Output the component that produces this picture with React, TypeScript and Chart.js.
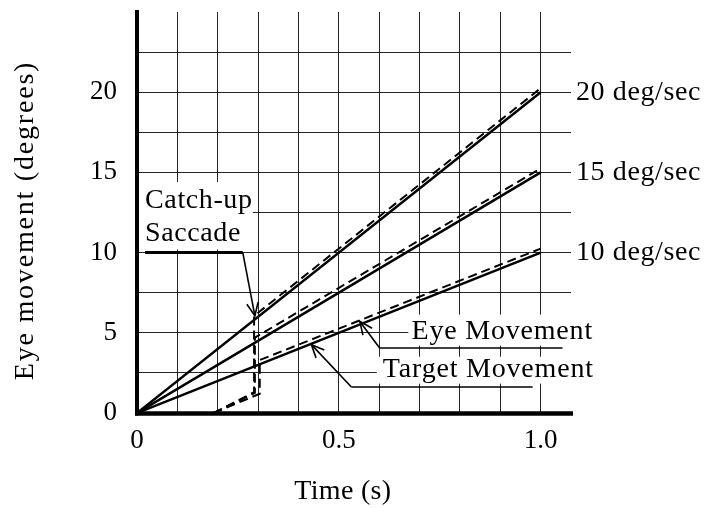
import React, { useEffect, useRef } from "react";
import { Chart, registerables } from "chart.js";

Chart.register(...registerables);

// ---- data ----
const targetTimes = [0, 1.0];
const target20 = [0, 20];
const target15 = [0, 15];
const target10 = [0, 10];

const eyeTimes20 = [0.19, 0.29, 0.29, 1.0];
const eye20 = [0, 1.3, 6.05, 20.25];
const eyeTimes15 = [0.19, 0.292, 0.292, 1.0];
const eye15 = [0, 1.25, 4.7, 15.25];
const eyeTimes10 = [0.19, 0.304, 0.304, 1.0];
const eye10 = [0, 1.2, 3.3, 10.25];

const xTickValues = [0, 0.5, 1.0];
const xTickLabels = ["0", "0.5", "1.0"];
const yTickValues = [0, 5, 10, 15, 20];
const yTickLabels = ["0", "5", "10", "15", "20"];

const speedLabels = ["20 deg/sec", "15 deg/sec", "10 deg/sec"];
const speedLabelValues = [20, 15, 10];

const xTitle = "Time (s)";
const yTitle = "Eye movement (degrees)";

const FONT = "'Liberation Serif', 'Times New Roman', serif";

// annotation geometry in data units
const catchupLines = ["Catch-up", "Saccade"];
const catchupBaselines = [12.78, 10.74];
const catchupX = 0.02;
const catchupBox = [0.0025, 14.4, 0.287, 10.2];
const catchupPath = [
  [0.02, 10],
  [0.262, 10],
  [0.292, 6.06],
];

const eyeText = "Eye Movement";
const eyeTextPos = [0.68, 5.09];
const eyeBox = [0.672, 6.13, 1.15, 4.2];
const eyePath = [
  [0.552, 5.71],
  [0.601, 4.05],
  [1.054, 4.05],
];

const targetText = "Target Movement";
const targetTextPos = [0.609, 2.7];
const targetBox = [0.594, 3.51, 1.15, 1.83];
const targetPath = [
  [0.432, 4.26],
  [0.531, 1.62],
  [0.98, 1.62],
];

const toPts = (xs: number[], ys: number[]) => xs.map((x, i) => ({ x, y: ys[i] }));

function drawArrowPath(ctx: CanvasRenderingContext2D, xs: any, ys: any, path: number[][], width: number, firstWidth?: number) {
  const pts = path.map((p) => [xs.getPixelForValue(p[0]), ys.getPixelForValue(p[1])]);
  ctx.save();
  ctx.strokeStyle = "#000";
  ctx.lineCap = "butt";
  ctx.lineJoin = "miter";
  for (let i = 0; i < pts.length - 1; i++) {
    ctx.lineWidth = i === 0 && firstWidth ? firstWidth : width;
    ctx.beginPath();
    ctx.moveTo(pts[i][0], pts[i][1]);
    ctx.lineTo(pts[i + 1][0], pts[i + 1][1]);
    ctx.stroke();
  }
  ctx.restore();
}

function drawArrowHead(ctx: CanvasRenderingContext2D, tip: number[], from: number[], len: number, width: number) {
  const ang = Math.atan2(tip[1] - from[1], tip[0] - from[0]);
  const a = 0.42;
  ctx.save();
  ctx.strokeStyle = "#000";
  ctx.lineWidth = width;
  ctx.beginPath();
  ctx.moveTo(tip[0] - len * Math.cos(ang - a), tip[1] - len * Math.sin(ang - a));
  ctx.lineTo(tip[0], tip[1]);
  ctx.lineTo(tip[0] - len * Math.cos(ang + a), tip[1] - len * Math.sin(ang + a));
  ctx.stroke();
  ctx.restore();
}

const annotPlugin = {
  id: "annot",
  beforeDatasetsDraw(chart: any) {
    const ctx: CanvasRenderingContext2D = chart.ctx;
    const xs = chart.scales.x;
    const ys = chart.scales.y;
    const box = (b: number[]) => {
      const x1 = xs.getPixelForValue(b[0]);
      const y1 = ys.getPixelForValue(b[1]);
      const x2 = xs.getPixelForValue(b[2]);
      const y2 = ys.getPixelForValue(b[3]);
      ctx.fillStyle = "#fff";
      ctx.fillRect(x1, y1, x2 - x1, y2 - y1);
    };
    ctx.save();
    box(catchupBox);
    box(eyeBox);
    box(targetBox);

    ctx.fillStyle = "#000";
    ctx.font = `28px ${FONT}`;
    (ctx as any).letterSpacing = "0.6px";
    ctx.textAlign = "left";
    ctx.textBaseline = "alphabetic";
    catchupLines.forEach((t, i) => {
      ctx.fillText(t, xs.getPixelForValue(catchupX), ys.getPixelForValue(catchupBaselines[i]));
    });
    ctx.textBaseline = "middle";
    (ctx as any).letterSpacing = "0.8px";
    ctx.fillText(eyeText, xs.getPixelForValue(eyeTextPos[0]), ys.getPixelForValue(eyeTextPos[1]));
    ctx.fillText(targetText, xs.getPixelForValue(targetTextPos[0]), ys.getPixelForValue(targetTextPos[1]));
    ctx.restore();
  },
  afterDatasetsDraw(chart: any) {
    const ctx: CanvasRenderingContext2D = chart.ctx;
    const xs = chart.scales.x;
    const ys = chart.scales.y;
    const area = chart.chartArea;

    // annotation leader lines and arrows
    drawArrowPath(ctx, xs, ys, catchupPath, 1.6, 3);
    drawArrowPath(ctx, xs, ys, eyePath, 1.6);
    drawArrowPath(ctx, xs, ys, targetPath, 1.6);
    const px = (p: number[]) => [xs.getPixelForValue(p[0]), ys.getPixelForValue(p[1])];
    drawArrowHead(ctx, px(catchupPath[2]), px(catchupPath[1]), 14, 1.6);
    drawArrowHead(ctx, px(eyePath[0]), px(eyePath[1]), 14, 1.6);
    drawArrowHead(ctx, px(targetPath[0]), px(targetPath[1]), 14, 1.6);

    // thick axes
    const x0 = xs.getPixelForValue(0);
    const y0 = ys.getPixelForValue(0);
    ctx.save();
    ctx.strokeStyle = "#000";
    ctx.lineWidth = 4;
    ctx.beginPath();
    ctx.moveTo(x0, area.top - 2);
    ctx.lineTo(x0, y0 + 2.5);
    ctx.stroke();
    ctx.lineWidth = 4.5;
    ctx.beginPath();
    ctx.moveTo(x0 - 2, y0 + 0.5);
    ctx.lineTo(area.right + 2, y0 + 0.5);
    ctx.stroke();
    ctx.restore();

    // speed labels at right
    ctx.save();
    ctx.fillStyle = "#000";
    ctx.font = `28px ${FONT}`;
    (ctx as any).letterSpacing = "0.6px";
    ctx.textAlign = "left";
    ctx.textBaseline = "middle";
    speedLabels.forEach((t, i) => {
      ctx.fillText(t, area.right + 5, ys.getPixelForValue(speedLabelValues[i]));
    });
    ctx.restore();

    // axis titles
    ctx.save();
    ctx.fillStyle = "#000";
    ctx.font = `28px ${FONT}`;
    ctx.textAlign = "center";
    ctx.textBaseline = "alphabetic";
    (ctx as any).letterSpacing = "0.3px";
    ctx.fillText(xTitle, xs.getPixelForValue(0.51), area.bottom + 86);
    ctx.translate(area.left - 111, ys.getPixelForValue(12));
    ctx.rotate(-Math.PI / 2);
    ctx.textBaseline = "middle";
    (ctx as any).letterSpacing = "1.8px";
    ctx.fillText(yTitle, 0, 0);
    ctx.restore();
  },
};

export default function App() {
  const ref = useRef<HTMLCanvasElement>(null);
  useEffect(() => {
    if (!ref.current) return;
    const gridColor = "rgba(0,0,0,0.85)";
    const solid = (data: any) => ({
      data,
      borderColor: "#000",
      borderWidth: 2.5,
      pointRadius: 0,
      tension: 0,
      fill: false,
    });
    const dashed = (data: any) => ({
      data,
      borderColor: "#000",
      borderWidth: 2,
      borderDash: [9, 5],
      pointRadius: 0,
      tension: 0,
      fill: false,
    });
    const chart = new Chart(ref.current, {
      type: "line",
      data: {
        datasets: [
          solid(toPts(targetTimes, target20)),
          solid(toPts(targetTimes, target15)),
          solid(toPts(targetTimes, target10)),
          dashed(toPts(eyeTimes20, eye20)),
          dashed(toPts(eyeTimes15, eye15)),
          dashed(toPts(eyeTimes10, eye10)),
        ],
      },
      options: {
        responsive: false,
        animation: false,
        layout: { padding: { left: 0, top: 12, right: 135, bottom: 0 } },
        plugins: { legend: { display: false }, tooltip: { enabled: false } },
        scales: {
          x: {
            type: "linear",
            min: 0,
            max: 1.075,
            border: { display: false },
            grid: {
              drawTicks: false,
              lineWidth: 1,
              color: (c: any) => (c.tick && c.tick.value > 1.0001 ? "rgba(0,0,0,0)" : gridColor),
            },
            ticks: {
              stepSize: 0.1,
              includeBounds: false,
              autoSkip: false,
              maxRotation: 0,
              padding: 12,
              color: "#000",
              font: { family: FONT, size: 27 },
              callback: (v: any) => {
                const i = xTickValues.findIndex((t) => Math.abs(t - v) < 1e-6);
                return i >= 0 ? xTickLabels[i] : "";
              },
            },
            afterFit: (s: any) => {
              s.height = 95;
              s.paddingLeft = 0;
              s.paddingRight = 0;
            },
          },
          y: {
            type: "linear",
            min: 0,
            max: 25,
            border: { display: false },
            grid: {
              drawTicks: false,
              lineWidth: 1,
              color: (c: any) => (c.tick && c.tick.value > 24.9 ? "rgba(0,0,0,0)" : gridColor),
            },
            ticks: {
              stepSize: 2.5,
              autoSkip: false,
              padding: 20,
              color: "#000",
              font: { family: FONT, size: 27 },
              callback: (v: any) => {
                const i = yTickValues.findIndex((t) => Math.abs(t - v) < 1e-6);
                return i >= 0 ? yTickLabels[i] : "";
              },
            },
            afterFit: (s: any) => {
              s.width = 137;
              s.paddingTop = 0;
              s.paddingBottom = 0;
            },
          },
        },
      },
      plugins: [annotPlugin],
    });
    return () => chart.destroy();
  }, []);
  return (
    <canvas
      ref={ref}
      width={706}
      height={508}
      style={{ position: "absolute", left: 0, top: 0, width: 706, height: 508, display: "block" }}
    />
  );
}
